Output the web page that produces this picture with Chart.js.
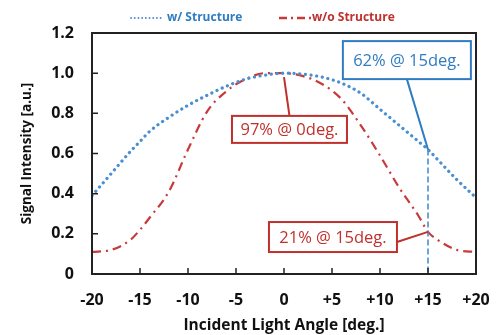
<!DOCTYPE html>
<html><head><meta charset="utf-8">
<script src="https://cdn.jsdelivr.net/npm/chart.js@4.4.1/dist/chart.umd.min.js"></script>
<style>html,body{margin:0;padding:0;background:#fff;}#wrap{width:501px;height:335px;}</style>
</head><body><div id="wrap"><canvas id="c" width="501" height="335"></canvas></div>
<script>
// ---- data ----
const angles           = [-20, -18, -16, -15, -14, -12, -10, -8, -6, -4, -2, 0, 2, 4, 6, 8, 10, 12, 14, 15, 16, 18, 20];
const withStructure    = [0.39, 0.50, 0.61, 0.66, 0.71, 0.78, 0.84, 0.89, 0.935, 0.97, 0.99, 1.0, 0.995, 0.98, 0.95, 0.90, 0.82, 0.74, 0.66, 0.62, 0.57, 0.47, 0.38];
const withoutStructure = [0.11, 0.12, 0.17, 0.22, 0.28, 0.41, 0.62, 0.81, 0.91, 0.97, 1.0, 1.0, 0.985, 0.945, 0.87, 0.74, 0.59, 0.43, 0.29, 0.21, 0.17, 0.12, 0.11];
const seriesNames = ['w/ Structure', 'w/o Structure'];
const xTickValues = [-20, -15, -10, -5, 0, 5, 10, 15, 20];
const xTickLabels = ['-20', '-15', '-10', '-5', '0', '+5', '+10', '+15', '+20'];
const yTickValues = [0, 0.2, 0.4, 0.6, 0.8, 1.0, 1.2];
const yTickLabels = ['0', '0.2', '0.4', '0.6', '0.8', '1.0', '1.2'];
const calloutTexts = ['62% @ 15deg.', '97% @ 0deg.', '21% @ 15deg.'];
const calloutAnchors = [[15, 0.62], [0, 0.98], [15, 0.21]];

// ---- styles ----
const BLUE = '#4a8fd3', BLUE_TXT = '#2f7cc0';
const RED = '#c83a3a', RED_TXT = '#c0302c';
const FONT = '"Open Sans", "DejaVu Sans", sans-serif';

const calloutStyle = [
  {color: BLUE_TXT, center: [12.8, 1.065], w: 128, h: 38, from: 'bottom', lw: 2},
  {color: RED_TXT, center: [0.57, 0.72], w: 115, h: 27, from: 'top', lw: 2},
  {color: RED_TXT, center: [5.1, 0.184], w: 128, h: 30, from: 'right', lw: 2}
];

const decorPlugin = {
  id: 'decor',
  afterDatasetsDraw(chart) {
    const {ctx, chartArea: a, scales: {x, y}} = chart;
    ctx.save();
    // vertical dashed guide at 15deg
    ctx.strokeStyle = BLUE; ctx.lineWidth = 1.6; ctx.setLineDash([6, 3]);
    ctx.beginPath();
    ctx.moveTo(x.getPixelForValue(calloutAnchors[0][0]), y.getPixelForValue(calloutAnchors[0][1]));
    ctx.lineTo(x.getPixelForValue(calloutAnchors[0][0]), y.getPixelForValue(0));
    ctx.stroke();
    ctx.setLineDash([]);
    // frame
    ctx.strokeStyle = '#222'; ctx.lineWidth = 2;
    ctx.strokeRect(a.left, a.top, a.right - a.left, a.bottom - a.top);
    // inward ticks
    ctx.lineWidth = 1.5;
    ctx.beginPath();
    xTickValues.slice(1, -1).forEach(v => {
      const px = x.getPixelForValue(v);
      ctx.moveTo(px, a.bottom); ctx.lineTo(px, a.bottom - 6);
    });
    yTickValues.slice(1, -1).forEach(v => {
      const py = y.getPixelForValue(v);
      ctx.moveTo(a.left, py); ctx.lineTo(a.left + 6, py);
    });
    ctx.stroke();
    // callouts
    ctx.font = '16.5px ' + FONT;
    ctx.textAlign = 'center'; ctx.textBaseline = 'middle';
    calloutTexts.forEach((t, i) => {
      const s = calloutStyle[i];
      const cx = x.getPixelForValue(s.center[0]), cy = y.getPixelForValue(s.center[1]);
      const ax = x.getPixelForValue(calloutAnchors[i][0]), ay = y.getPixelForValue(calloutAnchors[i][1]);
      let sx = cx, sy = cy;
      if (s.from === 'bottom') sy = cy + s.h / 2;
      if (s.from === 'top') sy = cy - s.h / 2;
      if (s.from === 'right') { sx = cx + s.w / 2; sy = cy + 5; }
      ctx.strokeStyle = s.color; ctx.lineWidth = 2;
      ctx.beginPath(); ctx.moveTo(sx, sy); ctx.lineTo(ax, ay); ctx.stroke();
      ctx.fillStyle = '#fff';
      ctx.fillRect(cx - s.w / 2, cy - s.h / 2, s.w, s.h);
      ctx.lineWidth = s.lw;
      ctx.strokeRect(cx - s.w / 2, cy - s.h / 2, s.w, s.h);
      ctx.fillStyle = s.color;
      ctx.fillText(t, cx, cy + 1);
    });
    // legend
    ctx.textAlign = 'left';
    ctx.font = 'bold 12px ' + FONT;
    ctx.lineCap = 'round';
    ctx.strokeStyle = BLUE; ctx.lineWidth = 1.8; ctx.setLineDash([0.1, 3.6]);
    ctx.beginPath(); ctx.moveTo(131, 18); ctx.lineTo(163, 18); ctx.stroke();
    ctx.fillStyle = BLUE_TXT; ctx.fillText(seriesNames[0], 167, 18);
    ctx.lineCap = 'butt';
    ctx.strokeStyle = RED; ctx.lineWidth = 2.5; ctx.setLineDash([8, 4, 2, 4]);
    ctx.beginPath(); ctx.moveTo(279, 18); ctx.lineTo(311, 18); ctx.stroke();
    ctx.setLineDash([]);
    ctx.fillStyle = RED_TXT; ctx.fillText(seriesNames[1], 312, 18);
    ctx.restore();
  }
};

new Chart(document.getElementById('c'), {
  type: 'line',
  data: {
    datasets: [
      {
        label: seriesNames[0],
        data: angles.map((a, i) => ({x: a, y: withStructure[i]})),
        borderColor: BLUE, borderWidth: 3.2, borderDash: [0.1, 5.6], borderCapStyle: 'round',
        pointRadius: 0, cubicInterpolationMode: 'monotone', fill: false
      },
      {
        label: seriesNames[1],
        data: angles.map((a, i) => ({x: a, y: withoutStructure[i]})),
        borderColor: RED, borderWidth: 2.2, borderDash: [9, 5, 2, 5],
        pointRadius: 0, cubicInterpolationMode: 'monotone', fill: false
      }
    ]
  },
  options: {
    responsive: false, animation: false,
    layout: {padding: {left: 0, top: 33, right: 25, bottom: 0}},
    plugins: {legend: {display: false}, tooltip: {enabled: false}},
    scales: {
      x: {
        type: 'linear', min: -20, max: 20,
        afterBuildTicks: s => { s.ticks = xTickValues.map(v => ({value: v})); },
        afterFit: s => { s.height = 61; },
        grid: {display: false}, border: {display: false},
        ticks: {
          padding: 9, color: '#111', font: {family: FONT, size: 16, weight: 'bold'},
          maxRotation: 0, autoSkip: false,
          callback: (v) => xTickLabels[xTickValues.indexOf(v)]
        },
        title: {display: true, text: 'Incident Light Angle [deg.]', color: '#111',
          font: {family: FONT, size: 15.5, weight: 'bold'}, padding: {top: 0, bottom: 0}}
      },
      y: {
        type: 'linear', min: 0, max: 1.2,
        afterBuildTicks: s => { s.ticks = yTickValues.map(v => ({value: v})); },
        afterFit: s => { s.width = 92; },
        grid: {display: false}, border: {display: false},
        ticks: {
          padding: 10, color: '#111', font: {family: FONT, size: 16, weight: 'bold'},
          autoSkip: false,
          callback: (v) => yTickLabels[yTickValues.findIndex(t => Math.abs(t - v) < 1e-6)]
        },
        title: {display: true, text: 'Signal Intensity [a.u.]', color: '#111',
          font: {family: FONT, size: 13.5, weight: 'bold'}, padding: {top: 19, bottom: 0}}
      }
    }
  },
  plugins: [decorPlugin]
});
</script></body></html>
